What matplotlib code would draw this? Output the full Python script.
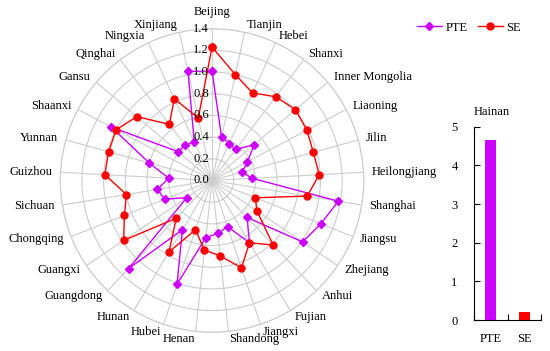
import numpy as np
import matplotlib
matplotlib.use("Agg")
import matplotlib.pyplot as plt
from matplotlib.transforms import offset_copy
from matplotlib.lines import Line2D

plt.rcParams['font.family'] = ['Liberation Serif', 'DejaVu Serif']
plt.rcParams['font.size'] = 9

provinces = ["Beijing", "Tianjin", "Hebei", "Shanxi", "Inner Mongolia", "Liaoning",
             "Jilin", "Heilongjiang", "Shanghai", "Jiangsu", "Zhejiang", "Anhui",
             "Fujian", "Jiangxi", "Shandong", "Henan", "Hubei", "Hunan", "Guangdong",
             "Guangxi", "Chongqing", "Sichuan", "Guizhou", "Yunnan", "Shaanxi",
             "Gansu", "Qinghai", "Ningxia", "Xinjiang"]
pte = [1.01, 0.41, 0.375, 0.36, 0.51, 0.37, 0.29, 0.37, 1.18, 1.08, 1.01, 0.47,
       0.67, 0.45, 0.49, 0.53, 1.01, 0.53, 1.12, 0.28, 0.47, 0.51, 0.40, 0.60,
       1.05, 0.41, 0.41, 0.39, 1.03]
se = [1.23, 1.00, 0.89, 0.97, 1.01, 0.99, 0.97, 0.99, 0.89, 0.43, 0.50, 0.82,
      0.67, 0.85, 0.70, 0.645, 0.48, 0.77, 0.48, 0.985, 0.87, 0.80, 0.99, 0.99,
      1.00, 0.91, 0.65, 0.83, 0.59]
r_ticks = [0.0, 0.2, 0.4, 0.6, 0.8, 1.0, 1.2, 1.4]

hainan_labels = ["PTE", "SE"]
hainan_values = [4.66, 0.20]
y_ticks = [0, 1, 2, 3, 4, 5]

PURPLE = '#CC00FF'
RED = '#FF0000'
GRID = '#cccccc'

fig = plt.figure(figsize=(5.5, 3.51), dpi=100)
ax = fig.add_axes([0.1095, 0.0533, 0.552, 0.865], projection='polar')
ax.set_theta_zero_location('N')
ax.set_theta_direction(-1)

n = len(provinces)
angles = np.arange(n) * 2 * np.pi / n
ang_c = np.append(angles, angles[0])

ax.plot(ang_c, np.append(pte, pte[0]), color=PURPLE, lw=1.0, marker='D',
        markersize=4.5, label='PTE', zorder=3)
ax.plot(ang_c, np.append(se, se[0]), color=RED, lw=1.0, marker='o',
        markersize=5, label='SE', zorder=4)

ax.set_ylim(0, 1.4)
ax.set_yticks(r_ticks)
ax.set_yticklabels([])
ax.set_xticks(angles)
ax.set_xticklabels([])
ax.grid(True, color=GRID, lw=0.8)
ax.spines['polar'].set_color(GRID)
ax.spines['polar'].set_linewidth(0.8)
ax.tick_params(length=0)

for a, name in zip(angles, provinces):
    s = np.sin(a)
    if abs(s) < 0.05:
        ax.text(a, 1.50, name, ha='center', va='bottom')
    else:
        ax.text(a, 1.47, name, ha='left' if s > 0 else 'right', va='center')

trans = offset_copy(ax.transData, fig=fig, x=-3, y=0, units='dots')
for r in r_ticks:
    ax.text(0, r, f"{r:.1f}", ha='right', va='center', transform=trans,
            zorder=5)

handles = [Line2D([], [], color=PURPLE, marker='D', markersize=4.5, lw=1.0),
           Line2D([], [], color=RED, marker='o', markersize=5, lw=1.0)]
fig.legend(handles, ['PTE', 'SE'], loc='center left',
           bbox_to_anchor=(0.7466, 0.921), ncol=2, frameon=False,
           borderpad=0, handlelength=2.0, handletextpad=0.3,
           columnspacing=0.8)

bx = fig.add_axes([0.8624, 0.0883, 0.1212, 0.5507])
pos = [0.5, 1.5]
bx.bar(pos, hainan_values, width=0.33, color=[PURPLE, RED])
bx.set_xlim(0, 2)
bx.set_ylim(0, 5)
bx.set_yticks(y_ticks)
bx.tick_params(axis='y', direction='in', length=4, pad=12)
bx.set_xticks([0, 1, 2])
bx.set_xticklabels([])
bx.tick_params(axis='x', which='major', direction='in', length=4)
bx.set_xticks(pos, minor=True)
bx.set_xticklabels(hainan_labels, minor=True)
bx.tick_params(axis='x', which='minor', length=0, pad=9)
bx.spines['top'].set_visible(False)
bx.spines['right'].set_visible(False)
fig.text(0.894, 0.680, "Hainan", ha='center', va='center')

fig.savefig("out.png", dpi=100)
